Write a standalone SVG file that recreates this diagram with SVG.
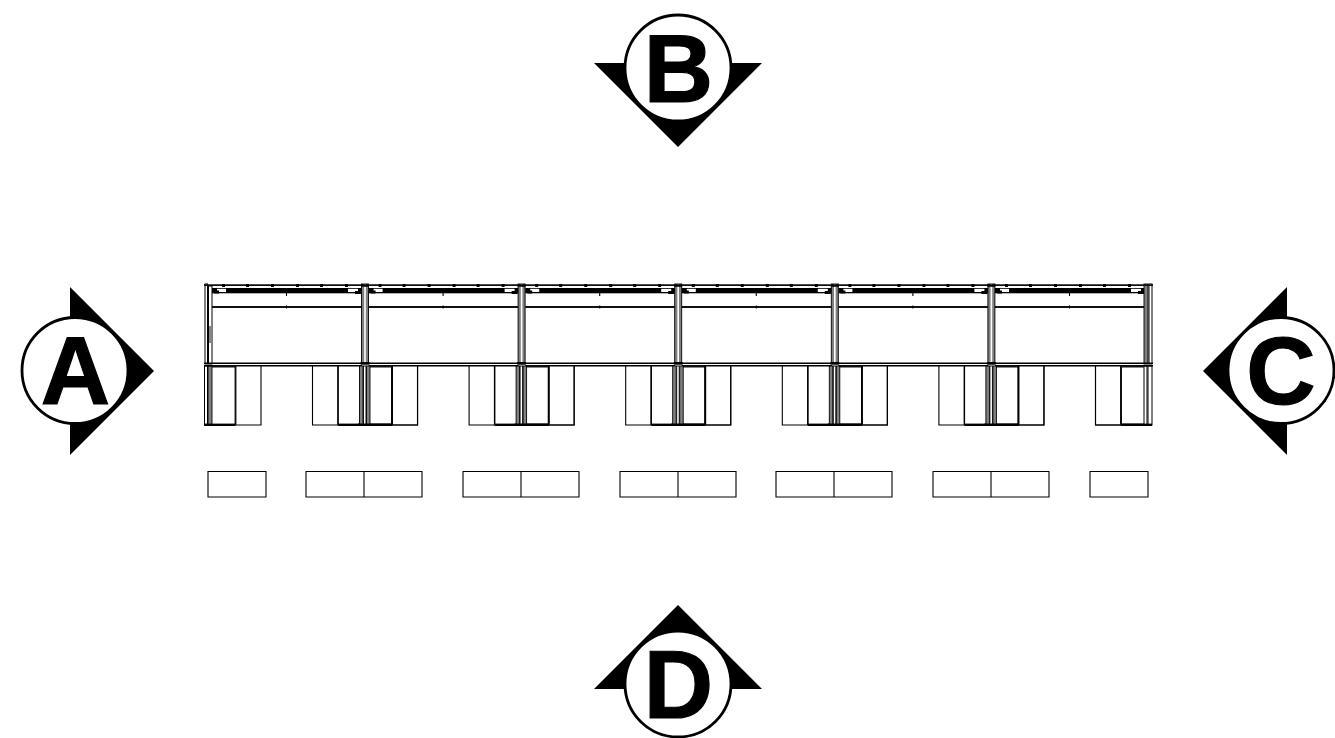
<svg xmlns="http://www.w3.org/2000/svg" width="1335" height="738" viewBox="0 0 1335 738">
<style>
.lbl{font-family:"Liberation Sans",Arial,sans-serif;font-weight:700;font-size:96px;text-anchor:middle;fill:#000;stroke:#000;stroke-width:1.2}
.ring{fill:#fff;stroke:#000;stroke-width:2.8}
.t{fill:none;stroke:#000;stroke-width:1.1}
.f{fill:none;stroke:#000;stroke-width:1.4}
.m{fill:none;stroke:#111;stroke-width:1.8}
.h{fill:none;stroke:#000;stroke-width:2.4}
.g{fill:#808080;stroke:#000;stroke-width:.9}
</style>
<defs>
<g id="bay">
<rect x="212" y="288" width="150" height="5.300" fill="#000"/>
<rect x="217" y="288.800" width="9" height="3.200" fill="#fff"/>
<rect x="348" y="288.800" width="10" height="3.200" fill="#fff"/>
<path d="M214 290.500h5v3h-5zM355 291h6v3h-6z" fill="#000"/>
<path class="m" d="M212 285.200H362"/>
<path d="M222 284h3v3h-3zM246 284h3v3h-3zM271 284h3v3h-3zM296 284h3v3h-3zM320 284h3v3h-3zM345 284h3v3h-3z" fill="#000"/>
<path class="m" d="M212 307H362"/>
<path class="t" d="M286.500 293V296M286.500 305.500V308.500"/>
<path class="f" d="M212 363.300H362M212 365.800H362"/>
</g>
<g id="lo">
<path class="t" d="M235.500 366V425H261V366"/>
<path class="t" d="M312.500 366V425H338V366"/>
<path class="m" d="M212 366.500H235.500V425"/>
<path class="h" d="M235.500 424.800H212"/>
<path class="h" d="M338 424.800H362"/>
<path class="f" d="M338 366V425"/>
</g>
<g id="col">
<rect x="361.500" y="284" width="7" height="80" class="g"/>
<rect x="364.200" y="284" width="1.600" height="80" fill="#fff"/>
<rect x="359.500" y="366" width="3.500" height="59" class="g"/>
<rect x="366.500" y="366" width="3.500" height="59" class="g"/>
<rect x="363.500" y="366" width="2.500" height="59" fill="#fff" stroke="#000" stroke-width=".9"/>
<path class="h" d="M358 424.800H392"/>
<path class="f" d="M392 366V425"/>
<path class="t" d="M392 366V425H417.500V366"/>
<path class="h" d="M360.500 363.300H369.500M361 285.500H369"/>
</g>
</defs>
<g id="elevation">
<use href="#bay"/><use href="#bay" x="156.600"/><use href="#bay" x="313.200"/><use href="#bay" x="469.800"/><use href="#bay" x="626.400"/><use href="#bay" x="783"/>
<use href="#lo"/><use href="#lo" x="156.600"/><use href="#lo" x="313.200"/><use href="#lo" x="469.800"/><use href="#lo" x="626.400"/><use href="#lo" x="783"/>
<path class="t" d="M1095.500 366V425H1121V366"/>
<use href="#col"/><use href="#col" x="156.600"/><use href="#col" x="313.200"/><use href="#col" x="469.800"/><use href="#col" x="626.400"/>
<!-- left end -->
<rect x="205" y="284" width="2.500" height="80" fill="#fff" stroke="#000"/><rect x="208.500" y="286" width="3.500" height="78" fill="#fff" stroke="#000"/>
<rect x="209" y="326" width="2.500" height="17" fill="#888"/>
<rect x="204.500" y="366" width="3" height="59" fill="#fff" stroke="#000"/><rect x="208" y="366" width="4" height="59" class="g"/>
<!-- right end -->
<rect x="1144" y="284" width="4" height="80" class="g"/><rect x="1149" y="284" width="3" height="80" fill="#fff" stroke="#000"/>
<rect x="1144" y="366" width="3" height="59" fill="#fff" stroke="#000"/><rect x="1148" y="366" width="4" height="59" fill="#fff" stroke="#000"/>
<path class="m" d="M1121 366.500H1144M1121 366V425"/>
<path class="h" d="M1121 424.800H1152"/>
<path class="m" d="M204 285.200H212M1144 285.200H1153"/>
<path class="f" d="M1144 363.300H1153M204 363.300H212M204 365.800H212M1144 365.800H1153"/>
<path class="h" d="M204 424.800H212"/>
</g>
<g id="plan">
<path class="t" d="M208 471.500H266V497H208ZM306 471.500H422V497H306ZM364 471.500V497M463 471.500H579V497H463ZM521 471.500V497M620 471.500H736V497H620ZM678 471.500V497M776 471.500H892V497H776ZM834 471.500V497M933 471.500H1049V497H933ZM991 471.500V497M1090 471.500H1148V497H1090Z"/>
</g>
<g id="marker-a"><path d="M70 287L154 371L70 455Z"/><circle class="ring" cx="75" cy="370.500" r="53"/><text class="lbl" x="75.500" y="403.500">A</text></g>
<g id="marker-b"><path d="M594 63H762L678 147Z"/><circle class="ring" cx="678" cy="68" r="53"/><text class="lbl" x="678.500" y="101.500">B</text></g>
<g id="marker-c"><path d="M1287 287L1203 371L1287 455Z"/><circle class="ring" cx="1281" cy="370.500" r="53"/><text class="lbl" x="1281" y="403.500">C</text></g>
<g id="marker-d"><path d="M594 689H762L678 605Z"/><circle class="ring" cx="678" cy="684" r="53"/><text class="lbl" x="678.500" y="717.500">D</text></g>
</svg>
